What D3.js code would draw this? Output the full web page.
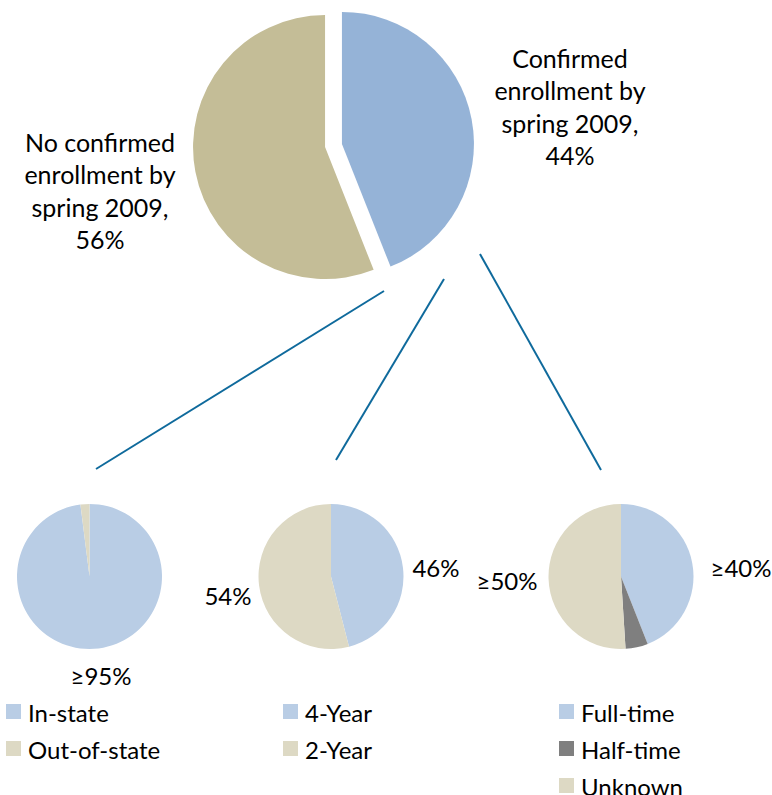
<!DOCTYPE html>
<html>
<head>
<meta charset="utf-8">
<script src="https://cdn.jsdelivr.net/npm/d3@7"></script>
<style>
  body { margin: 0; background: #fff; }
  svg text { font-family: Lato, "Open Sans", sans-serif; fill: #000; }
</style>
</head>
<body>
<svg width="772" height="795"></svg>
<script>
// top pie: enrollment status
var topNames = ["Confirmed enrollment by spring 2009", "No confirmed enrollment by spring 2009"];
var topValues = [44, 56];
var topLabels = [["Confirmed", "enrollment by", "spring 2009,", "44%"],
                 ["No confirmed", "enrollment by", "spring 2009,", "56%"]];
var topColors = ["#95b3d7", "#c4bd97"];

// breakdown pies (of the confirmed group)
var stateNames = ["In-state", "Out-of-state"];
var stateValues = [98, 2];
var typeNames = ["4-Year", "2-Year"];
var typeValues = [46, 54];
var timeNames = ["Full-time", "Half-time", "Unknown"];
var timeValues = [44, 5, 51];
var smallColors = ["#b9cde5", "#ddd9c4"];
var timeColors = ["#b9cde5", "#7f7f7f", "#ddd9c4"];

var svg = d3.select("svg");
var pie = d3.pie().sort(null).value(function(d) { return d; });

// big pie, both slices pulled apart
var bigCenter = [333.5, 145.5], bigR = 132, explode = 8.6;
var bigArc = d3.arc().innerRadius(0).outerRadius(bigR);
var big = svg.append("g").attr("transform", "translate(" + bigCenter + ")");
big.selectAll("path")
    .data(pie(topValues))
    .enter()
    .append("path")
    .attr("fill", function(d, i) { return topColors[i]; })
    .attr("transform", function(d) {
        var a = (d.startAngle + d.endAngle) / 2;
        return "translate(" + (Math.sin(a) * explode) + "," + (-Math.cos(a) * explode) + ")";
    })
    .attr("d", bigArc);

var bigLabelPos = [[570, 68], [100, 152]];
topLabels.forEach(function(lines, i) {
    var t = svg.append("text")
        .attr("x", bigLabelPos[i][0])
        .attr("y", bigLabelPos[i][1])
        .attr("text-anchor", "middle")
        .style("font-size", "25px");
    lines.forEach(function(s, j) {
        t.append("tspan")
            .attr("x", bigLabelPos[i][0])
            .attr("dy", j == 0 ? 0 : 32.3)
            .text(s);
    });
});

// connector lines from the confirmed slice down to the breakdowns
var connectors = [[[384, 291], [96, 469]], [[444, 279], [336, 460]], [[480, 254], [601, 470]]];
svg.selectAll(".connector")
    .data(connectors)
    .enter()
    .append("line")
    .attr("class", "connector")
    .attr("x1", function(d) { return d[0][0]; })
    .attr("y1", function(d) { return d[0][1]; })
    .attr("x2", function(d) { return d[1][0]; })
    .attr("y2", function(d) { return d[1][1]; })
    .attr("stroke", "#0f6a9c")
    .attr("stroke-width", 2);

// small pies
var smallR = 72.5;
var smallArc = d3.arc().innerRadius(0).outerRadius(smallR);
var smallPies = [
    {cx: 89.5, values: stateValues, names: stateNames, colors: smallColors,
     labels: [{text: "≥95%", x: 101, y: 685}], legendX: 6},
    {cx: 331, values: typeValues, names: typeNames, colors: smallColors,
     labels: [{text: "46%", x: 436, y: 577}, {text: "54%", x: 228, y: 605}], legendX: 283},
    {cx: 621, values: timeValues, names: timeNames, colors: timeColors,
     labels: [{text: "≥40%", x: 741, y: 577}, {text: "≥50%", x: 507, y: 590}], legendX: 559}
];
var smallCy = 576.5;

smallPies.forEach(function(p) {
    var g = svg.append("g").attr("transform", "translate(" + p.cx + "," + smallCy + ")");
    g.selectAll("path")
        .data(pie(p.values))
        .enter()
        .append("path")
        .attr("fill", function(d, i) { return p.colors[i]; })
        .attr("d", smallArc);

    svg.selectAll(null)
        .data(p.labels)
        .enter()
        .append("text")
        .attr("x", function(d) { return d.x; })
        .attr("y", function(d) { return d.y; })
        .attr("text-anchor", "middle")
        .style("font-size", "24px")
        .text(function(d) { return d.text; });

    var legend = svg.append("g").attr("class", "legend");
    legend.selectAll("rect")
        .data(p.names)
        .enter()
        .append("rect")
        .attr("x", p.legendX)
        .attr("y", function(d, i) { return 704 + i * 37; })
        .attr("width", 15)
        .attr("height", 15)
        .style("fill", function(d, i) { return p.colors[i]; });
    legend.selectAll("text")
        .data(p.names)
        .enter()
        .append("text")
        .attr("x", p.legendX + 22)
        .attr("y", function(d, i) { return 722 + i * 37; })
        .style("font-size", "24px")
        .text(function(d) { return d; });
});
</script>
</body>
</html>
